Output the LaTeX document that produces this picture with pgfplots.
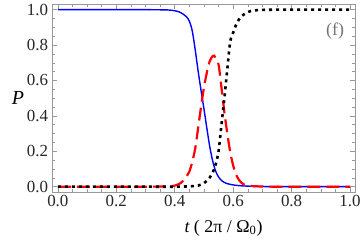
\documentclass[border=0pt]{standalone}
\usepackage{pgfplots}
\pgfplotsset{compat=1.18}
\usepackage{fontspec}
\setmainfont{Liberation Serif}
\definecolor{framegray}{gray}{0.6}
\begin{document}
\begin{tikzpicture}
\begin{axis}[
  scale only axis, width=303bp, height=188bp,
  xmin=-0.02, xmax=1.017, ymin=-0.03, ymax=1.032,
  axis line style={draw=framegray, line width=0.6pt},
  xtick={0,0.2,0.4,0.6,0.8,1.0}, ytick={0,0.2,0.4,0.6,0.8,1.0},
  minor tick num=3,
  tick align=inside,
  major tick length=5bp, minor tick length=3bp,
  tick style={framegray, line width=0.5pt},
  /pgf/number format/.cd, fixed, fixed zerofill, precision=1, assume math mode=true, /pgfplots/.cd,
  ticklabel style={font=\fontsize{17}{17}\selectfont, text=black!85},
  xticklabel style={yshift=0bp},
  yticklabel style={xshift=-0.5bp},
  xlabel={{\itshape t} ( 2π / Ω\textsubscript{0})},
  ylabel={\itshape P},
  xlabel style={font=\fontsize{18}{18}\selectfont, at={(rel axis cs:0.5,0)}, anchor=center, yshift=-36bp, xshift=20bp},
  ylabel style={font=\fontsize{20}{20}\selectfont, at={(rel axis cs:0,0.5)}, anchor=center, rotate=-90, xshift=-34bp},
  clip=true,
]
\coordinate (fsw) at (rel axis cs:0,0);
\coordinate (fne) at (rel axis cs:1,1);
\addplot[blue, line width=1.4bp, smooth] coordinates {
(0,1.0) (0.1,1.0) (0.2,1.0) (0.3,1.0) (0.36,0.999) (0.38,0.998) (0.40,0.994) (0.42,0.984) (0.44,0.960) (0.45,0.935) (0.46,0.880) (0.47,0.775) (0.48,0.655) (0.49,0.545) (0.50,0.44) (0.51,0.33) (0.52,0.225) (0.53,0.145) (0.54,0.088) (0.55,0.055) (0.56,0.035) (0.57,0.024) (0.58,0.017) (0.60,0.010) (0.62,0.006) (0.65,0.003) (0.70,0.001) (0.75,0) (0.8,0) (0.9,0) (1.0,0)
};
\addplot[red, line width=2.2bp, dash pattern=on 13bp off 6bp, smooth] coordinates {
(0,0) (0.1,0) (0.2,0) (0.3,0) (0.36,0.001) (0.38,0.002) (0.40,0.006) (0.42,0.020) (0.43,0.035) (0.44,0.058) (0.45,0.085) (0.46,0.14) (0.47,0.215) (0.48,0.33) (0.49,0.45) (0.50,0.56) (0.51,0.645) (0.52,0.71) (0.53,0.738) (0.535,0.740) (0.54,0.727) (0.55,0.69) (0.56,0.56) (0.57,0.42) (0.58,0.30) (0.59,0.195) (0.60,0.12) (0.61,0.068) (0.62,0.038) (0.63,0.020) (0.64,0.010) (0.66,0.004) (0.70,0.001) (0.75,0) (0.8,0) (0.9,0) (1.0,0)
};
\addplot[black, line width=2.6bp, dash pattern=on 3bp off 4bp, smooth] coordinates {
(0,0) (0.1,0) (0.2,0) (0.3,0) (0.40,0) (0.45,0.002) (0.48,0.006) (0.49,0.012) (0.50,0.020) (0.51,0.033) (0.52,0.052) (0.53,0.080) (0.54,0.125) (0.55,0.20) (0.56,0.35) (0.57,0.50) (0.58,0.665) (0.59,0.82) (0.60,0.87) (0.61,0.915) (0.62,0.945) (0.63,0.965) (0.64,0.977) (0.65,0.986) (0.66,0.992) (0.68,0.997) (0.70,0.999) (0.75,1.0) (0.8,1.0) (0.9,1.0) (1.0,1.0)
};
\node[text=black!55, font=\fontsize{18}{18}\selectfont] at (axis cs:0.949,0.877) {(f)};
\end{axis}
\pgfresetboundingbox
\path[use as bounding box] ([xshift=-52bp,yshift=-50bp]fsw) rectangle ([xshift=6bp,yshift=4bp]fne);
\end{tikzpicture}
\end{document}
